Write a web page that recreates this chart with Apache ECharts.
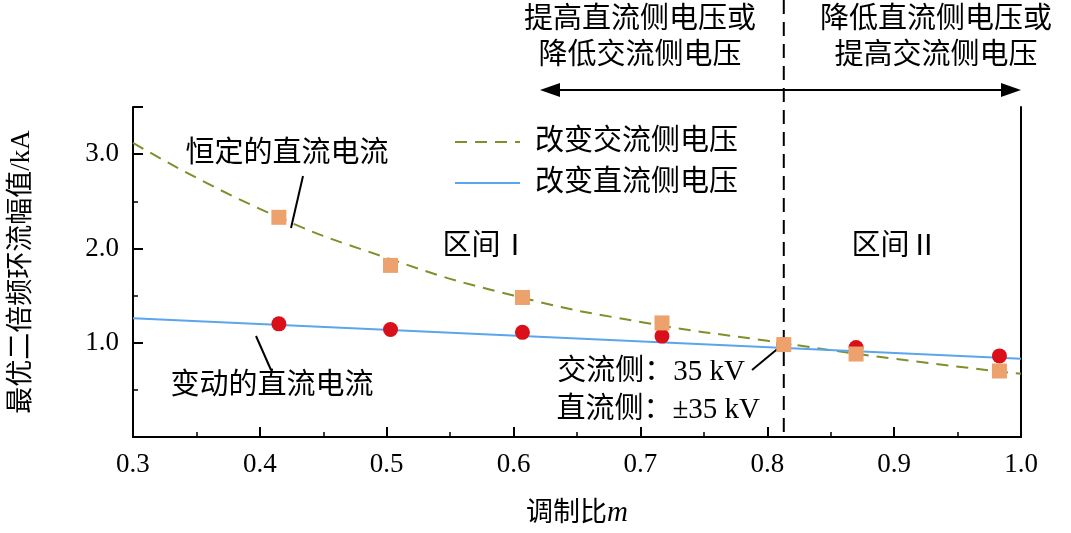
<!DOCTYPE html>
<html>
<head>
<meta charset="utf-8">
<script src="https://cdn.jsdelivr.net/npm/echarts@6/dist/echarts.min.js"></script>
<style>html,body{margin:0;padding:0;background:#fff}#main{width:1071px;height:533px}</style>
</head>
<body>
<div id="main"></div>
<script>
var curveX = [0.3, 0.4, 0.5, 0.6, 0.7, 0.8, 0.9, 1.0];
var acCurve = [3.12, 2.42, 1.90, 1.50, 1.22, 1.02, 0.83, 0.67];
var dcLineX = [0.3, 1.0];
var dcLine = [1.26, 0.83];
var pointX = [0.415, 0.503, 0.607, 0.717, 0.813, 0.870, 0.983];
var squares = [2.33, 1.82, 1.48, 1.21, 0.98, 0.88, 0.70];
var circles = [1.20, 1.14, 1.11, 1.07, 0.98, 0.95, 0.86];
var boundaryX = 0.813;

var FONT = '"Liberation Serif", "Noto Sans CJK SC", serif';
var dom = document.getElementById('main');
var myChart = echarts.init(dom);

function zip(xs, ys) {
    return xs.map(function (x, i) { return [x, ys[i]]; });
}

var option = {
    animation: false,
    grid: {left: 126, right: 50, top: 107, bottom: 95},
    xAxis: {
        type: 'value', min: 0.3, max: 1.0, interval: 0.1,
        axisLine: {lineStyle: {color: '#000', width: 2}},
        axisTick: {inside: true, length: 10, lineStyle: {color: '#000', width: 2}},
        minorTick: {show: true, splitNumber: 2, length: 5, lineStyle: {color: '#000', width: 1.5}},
        axisLabel: {color: '#000', fontSize: 27, fontFamily: FONT, margin: 14,
            formatter: function (v) { return v.toFixed(1); }},
        splitLine: {show: false},
        name: '调制比{i|m}', nameLocation: 'middle', nameGap: 62,
        nameTextStyle: {color: '#000', fontSize: 27, fontFamily: FONT,
            rich: {i: {fontStyle: 'italic', fontSize: 29, fontFamily: FONT}}}
    },
    yAxis: [{
        type: 'value', min: 0, max: 3.5, interval: 1,
        axisLine: {show: true, lineStyle: {color: '#000', width: 2}},
        axisTick: {inside: true, length: 10, lineStyle: {color: '#000', width: 2}},
        minorTick: {show: true, splitNumber: 2, length: 5, lineStyle: {color: '#000', width: 1.5}},
        axisLabel: {color: '#000', fontSize: 27, fontFamily: FONT, margin: 14,
            formatter: function (v) { return (v === 0 || v > 3) ? '' : v.toFixed(1); }},
        splitLine: {show: false},
        name: '最优二倍频环流幅值/kA', nameLocation: 'middle', nameGap: 98,
        nameTextStyle: {color: '#000', fontSize: 27, fontFamily: FONT}
    }, {
        type: 'value', min: 0, max: 3.5, position: 'right',
        axisLine: {show: true, lineStyle: {color: '#000', width: 2}},
        axisTick: {show: false}, axisLabel: {show: false}, splitLine: {show: false}
    }],
    series: [{
        type: 'line', data: zip(curveX, acCurve), smooth: true, symbol: 'none',
        lineStyle: {color: '#7f8f2a', width: 2, type: [12, 8]}
    }, {
        type: 'line', data: zip(dcLineX, dcLine), symbol: 'none',
        lineStyle: {color: '#5aa5ec', width: 2}
    }, {
        type: 'scatter', data: zip(pointX, circles), symbol: 'circle', symbolSize: 15,
        itemStyle: {color: '#d9101a', opacity: 1}, z: 3
    }, {
        type: 'scatter', data: zip(pointX, squares), symbol: 'rect', symbolSize: 15,
        itemStyle: {color: '#eda16c', opacity: 1}, z: 4
    }]
};
myChart.setOption(option);

var bx = myChart.convertToPixel({xAxisIndex: 0}, boundaryX);
var txt = function (x, y, s, align) {
    return {type: 'text', x: x, y: y, style: {text: s, font: '29px ' + FONT, fill: '#000',
        align: align || 'center', verticalAlign: 'middle'}};
};
var line = function (x1, y1, x2, y2, extra) {
    return {type: 'line', shape: {x1: x1, y1: y1, x2: x2, y2: y2},
        style: Object.assign({stroke: '#000', lineWidth: 2}, extra || {})};
};
myChart.setOption({
    graphic: [
        line(bx, 0, bx, 438, {lineDash: [14, 8]}),
        line(bx, 90, 552, 90),
        {type: 'polygon', shape: {points: [[540, 90], [560, 83], [560, 97]]}, style: {fill: '#000'}},
        line(bx, 90, 1008, 90),
        {type: 'polygon', shape: {points: [[1021, 90], [1001, 83], [1001, 97]]}, style: {fill: '#000'}},
        txt(640, 20, '提高直流侧电压或'),
        txt(640, 56, '降低交流侧电压'),
        txt(936, 20, '降低直流侧电压或'),
        txt(936, 56, '提高交流侧电压'),
        txt(287, 154, '恒定的直流电流'),
        line(303, 176, 291, 228),
        txt(272, 386, '变动的直流电流'),
        line(256, 336, 271, 370),
        txt(486, 247, '区间Ⅰ'),
        txt(895, 247, '区间Ⅱ'),
        txt(745, 372, '交流侧：35 kV', 'right'),
        txt(760, 410, '直流侧：±35 kV', 'right'),
        line(752, 370, 781, 346),
        line(455, 142, 520, 142, {stroke: '#7f8f2a', lineDash: [12, 8]}),
        txt(535, 142, '改变交流侧电压', 'left'),
        line(455, 183, 520, 183, {stroke: '#5aa5ec'}),
        txt(535, 183, '改变直流侧电压', 'left')
    ]
});
</script>
</body>
</html>
